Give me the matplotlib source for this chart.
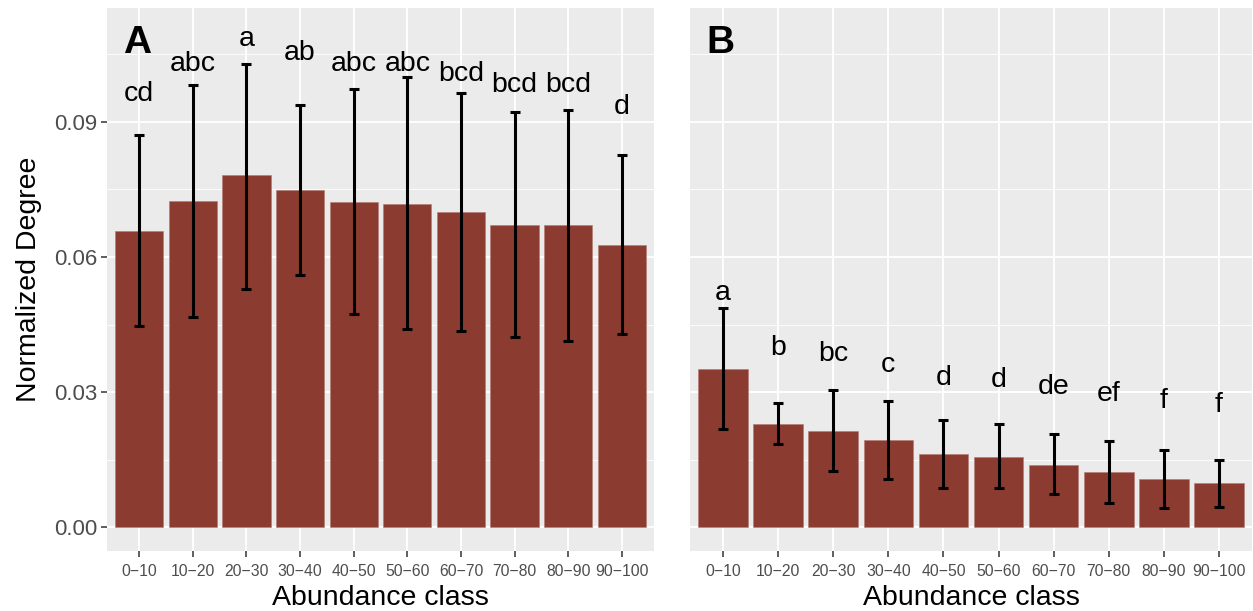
import numpy as np
import matplotlib
matplotlib.use("Agg")
import matplotlib.pyplot as plt

# ====================================
# DATA
# ====================================

classes = ["0\u221210", "10\u221220", "20\u221230", "30\u221240", "40\u221250",
           "50\u221260", "60\u221270", "70\u221280", "80\u221290", "90\u2212100"]

# Panel A
mean_a = [0.0658, 0.0724, 0.0781, 0.0749, 0.0722, 0.0718, 0.0700, 0.0672, 0.0671, 0.0627]
upper_a = [0.0870, 0.0981, 0.1029, 0.0938, 0.0973, 0.0999, 0.0964, 0.0923, 0.0927, 0.0827]
lower_a = [0.0447, 0.0466, 0.0530, 0.0559, 0.0473, 0.0439, 0.0436, 0.0423, 0.0414, 0.0428]
letters_a = ["cd", "abc", "a", "ab", "abc", "abc", "bcd", "bcd", "bcd", "d"]
letter_y_a = [0.0962, 0.1029, 0.1084, 0.1053, 0.1029, 0.1029, 0.1007, 0.0981, 0.0981, 0.0933]

# Panel B
mean_b = [0.0352, 0.0229, 0.0214, 0.0193, 0.0162, 0.0156, 0.0139, 0.0123, 0.0107, 0.0098]
upper_b = [0.0486, 0.0275, 0.0304, 0.0280, 0.0239, 0.0228, 0.0206, 0.0192, 0.0171, 0.0150]
lower_b = [0.0218, 0.0184, 0.0125, 0.0107, 0.0086, 0.0086, 0.0074, 0.0053, 0.0043, 0.0045]
letters_b = ["a", "b", "bc", "c", "d", "d", "de", "ef", "f", "f"]
letter_y_b = [0.0520, 0.0398, 0.0385, 0.0361, 0.0332, 0.0327, 0.0311, 0.0295, 0.0280, 0.0272]

# ====================================
# STYLE
# ====================================

plt.rcParams["font.family"] = ["Liberation Sans", "DejaVu Sans"]

BAR_COLOR = "#8B3B30"
PANEL_BG = "#EBEBEB"

fig = plt.figure(figsize=(12.53, 6.11), dpi=100)

ax_a = fig.add_axes([107 / 1253, 60 / 611, 547 / 1253, 543 / 611])
ax_b = fig.add_axes([690 / 1253, 60 / 611, 562 / 1253, 543 / 611])

x = np.arange(1, len(classes) + 1)


def draw_panel(ax, mean, upper, lower, letters, letter_y, tag, show_y):

    ax.set_facecolor(PANEL_BG)

    for spine in ax.spines.values():
        spine.set_visible(False)

    ax.set_xlim(0.4, 10.6)
    ax.set_ylim(-0.0053, 0.1153)

    # grid
    for yv in [0.015, 0.045, 0.075, 0.105]:
        ax.axhline(yv, color="white", lw=0.6, zorder=0)
    for yv in [0.0, 0.03, 0.06, 0.09]:
        ax.axhline(yv, color="white", lw=1.3, zorder=0)
    for xv in x:
        ax.axvline(xv, color="white", lw=1.3, zorder=0)

    ax.bar(x, mean, width=0.9, color=BAR_COLOR,
           edgecolor="#B07A72", linewidth=0.4, zorder=2)

    mean_arr = np.array(mean)
    yerr = [mean_arr - np.array(lower), np.array(upper) - mean_arr]
    ax.errorbar(x, mean, yerr=yerr, fmt="none", ecolor="black",
                elinewidth=2.2, capsize=3.6, capthick=2.2, zorder=3)

    for xi, lab, ly in zip(x, letters, letter_y):
        ax.text(xi, ly, lab, ha="center", va="center",
                fontsize=20.5, color="black", zorder=4)

    ax.text(0.69, 0.1076, tag, ha="left", va="center",
            fontsize=28, fontweight="bold", color="black")

    ax.set_xticks(x)
    ax.set_xticklabels(classes, fontsize=11.3, color="#4D4D4D")
    ax.tick_params(axis="x", length=4, width=1.1, color="#333333", pad=5)

    if show_y:
        ax.set_yticks([0.0, 0.03, 0.06, 0.09])
        ax.set_yticklabels(["0.00", "0.03", "0.06", "0.09"],
                           fontsize=16, color="#4D4D4D")
        ax.tick_params(axis="y", length=4, width=1.1, color="#333333", pad=3)
        ax.set_ylabel("Normalized Degree", fontsize=20.5, labelpad=9)
    else:
        ax.set_yticks([])

    ax.set_xlabel("Abundance class", fontsize=20.5, labelpad=5)


draw_panel(ax_a, mean_a, upper_a, lower_a, letters_a, letter_y_a, "A", True)
draw_panel(ax_b, mean_b, upper_b, lower_b, letters_b, letter_y_b, "B", False)

fig.savefig("out.png", dpi=100)
